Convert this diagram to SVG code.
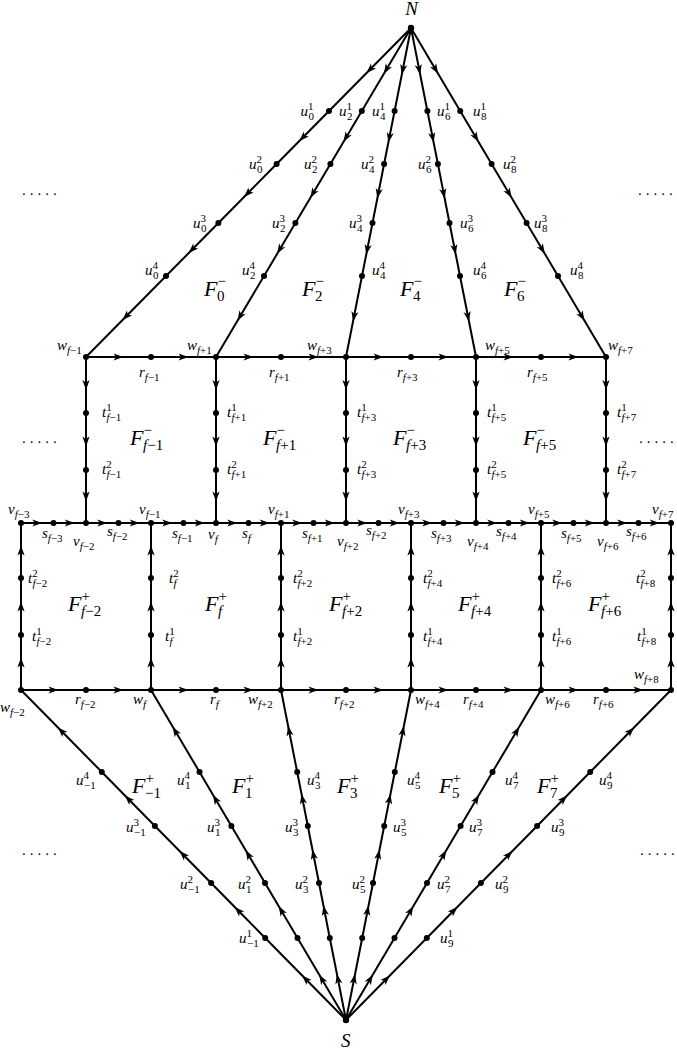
<svg xmlns="http://www.w3.org/2000/svg" width="677" height="1049" viewBox="0 0 677 1049">
<defs>
<marker id="a" viewBox="-6 -5 12 10" markerWidth="12" markerHeight="10" refX="0" refY="0" orient="auto" markerUnits="userSpaceOnUse"><path d="M5,0 L-5,-3.6 L-2.4,0 L-5,3.6 Z" fill="#000"/></marker>
<style>
.c path{stroke:#000;stroke-width:2;fill:none;marker-mid:url(#a)}
circle{fill:#000}
text{font-family:"Liberation Serif",serif;font-style:italic;font-size:15px;fill:#000}
.s{font-size:11px}
.n{font-style:normal}
text.F{font-size:22px}
.Fs{font-size:15px}
text.L{font-size:19px}
text.el{font-style:normal;letter-spacing:4px}
</style>
</defs>
<rect width="677" height="1049" fill="#fff"/>
<g class="c" id="connectors">
<path d="M411,28 L370,69.5 L329,111"/><path d="M329,111 L302.8,137.5 L276.6,164"/><path d="M276.6,164 L247.5,193.5 L218.4,223"/><path d="M218.4,223 L192.2,249.5 L166,276"/><path d="M166,276 L126,316.5 L86,357"/>
<path d="M411,28 L386.4,69.5 L361.8,111"/><path d="M361.8,111 L346.1,137.5 L330.4,164"/><path d="M330.4,164 L312.9,193.5 L295.4,223"/><path d="M295.4,223 L279.7,249.5 L264,276"/><path d="M264,276 L240,316.5 L216,357"/>
<path d="M411,28 L402.8,69.5 L394.6,111"/><path d="M394.6,111 L389.35,137.5 L384.1,164"/><path d="M384.1,164 L378.3,193.5 L372.5,223"/><path d="M372.5,223 L367.25,249.5 L362,276"/><path d="M362,276 L354,316.5 L346,357"/>
<path d="M411,28 L419.2,69.5 L427.4,111"/><path d="M427.4,111 L432.65,137.5 L437.9,164"/><path d="M437.9,164 L443.7,193.5 L449.5,223"/><path d="M449.5,223 L454.75,249.5 L460,276"/><path d="M460,276 L468,316.5 L476,357"/>
<path d="M411,28 L435.6,69.5 L460.2,111"/><path d="M460.2,111 L475.9,137.5 L491.6,164"/><path d="M491.6,164 L509.1,193.5 L526.6,223"/><path d="M526.6,223 L542.3,249.5 L558,276"/><path d="M558,276 L582,316.5 L606,357"/>
<path d="M346,1020 L305.6,979 L265.2,938"/><path d="M265.2,938 L238.15,910.5 L211.1,883"/><path d="M211.1,883 L183,854.5 L154.9,826"/><path d="M154.9,826 L128.35,799 L101.8,772"/><path d="M101.8,772 L61.4,731 L21,690"/>
<path d="M346,1020 L321.75,979 L297.5,938"/><path d="M297.5,938 L281.25,910.5 L265,883"/><path d="M265,883 L248.2,854.5 L231.4,826"/><path d="M231.4,826 L215.45,799 L199.5,772"/><path d="M199.5,772 L175.25,731 L151,690"/>
<path d="M346,1020 L337.9,979 L329.8,938"/><path d="M329.8,938 L324.4,910.5 L319,883"/><path d="M319,883 L313.4,854.5 L307.8,826"/><path d="M307.8,826 L302.5,799 L297.2,772"/><path d="M297.2,772 L289.1,731 L281,690"/>
<path d="M346,1020 L354.1,979 L362.2,938"/><path d="M362.2,938 L367.6,910.5 L373,883"/><path d="M373,883 L378.6,854.5 L384.2,826"/><path d="M384.2,826 L389.5,799 L394.8,772"/><path d="M394.8,772 L402.9,731 L411,690"/>
<path d="M346,1020 L370.25,979 L394.5,938"/><path d="M394.5,938 L410.75,910.5 L427,883"/><path d="M427,883 L443.8,854.5 L460.6,826"/><path d="M460.6,826 L476.55,799 L492.5,772"/><path d="M492.5,772 L516.75,731 L541,690"/>
<path d="M346,1020 L386.4,979 L426.8,938"/><path d="M426.8,938 L453.85,910.5 L480.9,883"/><path d="M480.9,883 L509,854.5 L537.1,826"/><path d="M537.1,826 L563.65,799 L590.2,772"/><path d="M590.2,772 L630.6,731 L671,690"/>
<path d="M86,357 L118.5,357 L151,357"/><path d="M151,357 L183.5,357 L216,357"/><path d="M216,357 L248.5,357 L281,357"/><path d="M281,357 L313.5,357 L346,357"/><path d="M346,357 L378.5,357 L411,357"/><path d="M411,357 L443.5,357 L476,357"/><path d="M476,357 L508.5,357 L541,357"/><path d="M541,357 L573.5,357 L606,357"/>
<path d="M21,523 L37.25,523 L53.5,523"/><path d="M53.5,523 L69.75,523 L86,523"/><path d="M86,523 L102.25,523 L118.5,523"/><path d="M118.5,523 L134.75,523 L151,523"/><path d="M151,523 L167.25,523 L183.5,523"/><path d="M183.5,523 L199.75,523 L216,523"/><path d="M216,523 L232.25,523 L248.5,523"/><path d="M248.5,523 L264.75,523 L281,523"/><path d="M281,523 L297.25,523 L313.5,523"/><path d="M313.5,523 L329.75,523 L346,523"/><path d="M346,523 L362.25,523 L378.5,523"/><path d="M378.5,523 L394.75,523 L411,523"/><path d="M411,523 L427.25,523 L443.5,523"/><path d="M443.5,523 L459.75,523 L476,523"/><path d="M476,523 L492.25,523 L508.5,523"/><path d="M508.5,523 L524.75,523 L541,523"/><path d="M541,523 L557.25,523 L573.5,523"/><path d="M573.5,523 L589.75,523 L606,523"/><path d="M606,523 L622.25,523 L638.5,523"/><path d="M638.5,523 L654.75,523 L671,523"/>
<path d="M21,690 L53.5,690 L86,690"/><path d="M86,690 L118.5,690 L151,690"/><path d="M151,690 L183.5,690 L216,690"/><path d="M216,690 L248.5,690 L281,690"/><path d="M281,690 L313.5,690 L346,690"/><path d="M346,690 L378.5,690 L411,690"/><path d="M411,690 L443.5,690 L476,690"/><path d="M476,690 L508.5,690 L541,690"/><path d="M541,690 L573.5,690 L606,690"/><path d="M606,690 L638.5,690 L671,690"/>
<path d="M86,357 L86,385 L86,413"/><path d="M86,413 L86,441.5 L86,470"/><path d="M86,470 L86,496.5 L86,523"/>
<path d="M216,357 L216,385 L216,413"/><path d="M216,413 L216,441.5 L216,470"/><path d="M216,470 L216,496.5 L216,523"/>
<path d="M346,357 L346,385 L346,413"/><path d="M346,413 L346,441.5 L346,470"/><path d="M346,470 L346,496.5 L346,523"/>
<path d="M476,357 L476,385 L476,413"/><path d="M476,413 L476,441.5 L476,470"/><path d="M476,470 L476,496.5 L476,523"/>
<path d="M606,357 L606,385 L606,413"/><path d="M606,413 L606,441.5 L606,470"/><path d="M606,470 L606,496.5 L606,523"/>
<path d="M21,690 L21,662.5 L21,635"/><path d="M21,635 L21,606.5 L21,578"/><path d="M21,578 L21,550.5 L21,523"/>
<path d="M151,690 L151,662.5 L151,635"/><path d="M151,635 L151,606.5 L151,578"/><path d="M151,578 L151,550.5 L151,523"/>
<path d="M281,690 L281,662.5 L281,635"/><path d="M281,635 L281,606.5 L281,578"/><path d="M281,578 L281,550.5 L281,523"/>
<path d="M411,690 L411,662.5 L411,635"/><path d="M411,635 L411,606.5 L411,578"/><path d="M411,578 L411,550.5 L411,523"/>
<path d="M541,690 L541,662.5 L541,635"/><path d="M541,635 L541,606.5 L541,578"/><path d="M541,578 L541,550.5 L541,523"/>
<path d="M671,690 L671,662.5 L671,635"/><path d="M671,635 L671,606.5 L671,578"/><path d="M671,578 L671,550.5 L671,523"/>
</g>
<g id="N"><circle cx="411" cy="28" r="3.2"/><text class="L" x="411.5" y="15" text-anchor="middle">N</text></g>
<g id="S"><circle cx="346" cy="1020" r="3.2"/><text class="L" x="345.7" y="1047" text-anchor="middle">S</text></g>
<g id="u0-1"><circle cx="329" cy="111" r="3"/><text x="300.5" y="116">u<tspan class="s n" dy="-6">1</tspan><tspan class="s n" x="308.5" dy="10">0</tspan></text></g>
<g id="u0-2"><circle cx="276.6" cy="164" r="3"/><text x="249" y="168.5">u<tspan class="s n" dy="-6">2</tspan><tspan class="s n" x="257" dy="10">0</tspan></text></g>
<g id="u0-3"><circle cx="218.4" cy="223" r="3"/><text x="193" y="228">u<tspan class="s n" dy="-6">3</tspan><tspan class="s n" x="201" dy="10">0</tspan></text></g>
<g id="u0-4"><circle cx="166" cy="276" r="3"/><text x="145" y="275">u<tspan class="s n" dy="-6">4</tspan><tspan class="s n" x="153" dy="10">0</tspan></text></g>
<g id="u2-1"><circle cx="361.8" cy="111" r="3"/><text x="339" y="116">u<tspan class="s n" dy="-6">1</tspan><tspan class="s n" x="347" dy="10">2</tspan></text></g>
<g id="u2-2"><circle cx="330.4" cy="164" r="3"/><text x="304" y="168.5">u<tspan class="s n" dy="-6">2</tspan><tspan class="s n" x="312" dy="10">2</tspan></text></g>
<g id="u2-3"><circle cx="295.4" cy="223" r="3"/><text x="272" y="228">u<tspan class="s n" dy="-6">3</tspan><tspan class="s n" x="280" dy="10">2</tspan></text></g>
<g id="u2-4"><circle cx="264" cy="276" r="3"/><text x="242" y="275">u<tspan class="s n" dy="-6">4</tspan><tspan class="s n" x="250" dy="10">2</tspan></text></g>
<g id="u4-1"><circle cx="394.6" cy="111" r="3"/><text x="372" y="116">u<tspan class="s n" dy="-6">1</tspan><tspan class="s n" x="380" dy="10">4</tspan></text></g>
<g id="u4-2"><circle cx="384.1" cy="164" r="3"/><text x="361" y="168.5">u<tspan class="s n" dy="-6">2</tspan><tspan class="s n" x="369" dy="10">4</tspan></text></g>
<g id="u4-3"><circle cx="372.5" cy="223" r="3"/><text x="349" y="228">u<tspan class="s n" dy="-6">3</tspan><tspan class="s n" x="357" dy="10">4</tspan></text></g>
<g id="u4-4"><circle cx="362" cy="276" r="3"/><text x="372" y="275">u<tspan class="s n" dy="-6">4</tspan><tspan class="s n" x="380" dy="10">4</tspan></text></g>
<g id="u6-1"><circle cx="427.4" cy="111" r="3"/><text x="437" y="116">u<tspan class="s n" dy="-6">1</tspan><tspan class="s n" x="445" dy="10">6</tspan></text></g>
<g id="u6-2"><circle cx="437.9" cy="164" r="3"/><text x="418" y="168.5">u<tspan class="s n" dy="-6">2</tspan><tspan class="s n" x="426" dy="10">6</tspan></text></g>
<g id="u6-3"><circle cx="449.5" cy="223" r="3"/><text x="460" y="228">u<tspan class="s n" dy="-6">3</tspan><tspan class="s n" x="468" dy="10">6</tspan></text></g>
<g id="u6-4"><circle cx="460" cy="276" r="3"/><text x="473" y="275">u<tspan class="s n" dy="-6">4</tspan><tspan class="s n" x="481" dy="10">6</tspan></text></g>
<g id="u8-1"><circle cx="460.2" cy="111" r="3"/><text x="473" y="116">u<tspan class="s n" dy="-6">1</tspan><tspan class="s n" x="481" dy="10">8</tspan></text></g>
<g id="u8-2"><circle cx="491.6" cy="164" r="3"/><text x="503" y="168.5">u<tspan class="s n" dy="-6">2</tspan><tspan class="s n" x="511" dy="10">8</tspan></text></g>
<g id="u8-3"><circle cx="526.6" cy="223" r="3"/><text x="534" y="228">u<tspan class="s n" dy="-6">3</tspan><tspan class="s n" x="542" dy="10">8</tspan></text></g>
<g id="u8-4"><circle cx="558" cy="276" r="3"/><text x="570" y="275">u<tspan class="s n" dy="-6">4</tspan><tspan class="s n" x="578" dy="10">8</tspan></text></g>
<g id="um1-1"><circle cx="265.2" cy="938" r="3"/><text x="239" y="943">u<tspan class="s n" dy="-6">1</tspan><tspan class="s n" x="247" dy="10">−1</tspan></text></g>
<g id="um1-2"><circle cx="211.1" cy="883" r="3"/><text x="180" y="889">u<tspan class="s n" dy="-6">2</tspan><tspan class="s n" x="188" dy="10">−1</tspan></text></g>
<g id="um1-3"><circle cx="154.9" cy="826" r="3"/><text x="126" y="832">u<tspan class="s n" dy="-6">3</tspan><tspan class="s n" x="134" dy="10">−1</tspan></text></g>
<g id="um1-4"><circle cx="101.8" cy="772" r="3"/><text x="76" y="785">u<tspan class="s n" dy="-6">4</tspan><tspan class="s n" x="84" dy="10">−1</tspan></text></g>
<g id="u1-1"><circle cx="297.5" cy="938" r="3"/></g>
<g id="u1-2"><circle cx="265" cy="883" r="3"/><text x="238" y="889">u<tspan class="s n" dy="-6">2</tspan><tspan class="s n" x="246" dy="10">1</tspan></text></g>
<g id="u1-3"><circle cx="231.4" cy="826" r="3"/><text x="207" y="832">u<tspan class="s n" dy="-6">3</tspan><tspan class="s n" x="215" dy="10">1</tspan></text></g>
<g id="u1-4"><circle cx="199.5" cy="772" r="3"/><text x="177" y="785">u<tspan class="s n" dy="-6">4</tspan><tspan class="s n" x="185" dy="10">1</tspan></text></g>
<g id="u3-1"><circle cx="329.8" cy="938" r="3"/></g>
<g id="u3-2"><circle cx="319" cy="883" r="3"/><text x="295" y="889">u<tspan class="s n" dy="-6">2</tspan><tspan class="s n" x="303" dy="10">3</tspan></text></g>
<g id="u3-3"><circle cx="307.8" cy="826" r="3"/><text x="285" y="832">u<tspan class="s n" dy="-6">3</tspan><tspan class="s n" x="293" dy="10">3</tspan></text></g>
<g id="u3-4"><circle cx="297.2" cy="772" r="3"/><text x="307" y="785">u<tspan class="s n" dy="-6">4</tspan><tspan class="s n" x="315" dy="10">3</tspan></text></g>
<g id="u5-1"><circle cx="362.2" cy="938" r="3"/></g>
<g id="u5-2"><circle cx="373" cy="883" r="3"/><text x="352" y="889">u<tspan class="s n" dy="-6">2</tspan><tspan class="s n" x="360" dy="10">5</tspan></text></g>
<g id="u5-3"><circle cx="384.2" cy="826" r="3"/><text x="393" y="832">u<tspan class="s n" dy="-6">3</tspan><tspan class="s n" x="401" dy="10">5</tspan></text></g>
<g id="u5-4"><circle cx="394.8" cy="772" r="3"/><text x="407" y="785">u<tspan class="s n" dy="-6">4</tspan><tspan class="s n" x="415" dy="10">5</tspan></text></g>
<g id="u7-1"><circle cx="394.5" cy="938" r="3"/></g>
<g id="u7-2"><circle cx="427" cy="883" r="3"/><text x="437" y="889">u<tspan class="s n" dy="-6">2</tspan><tspan class="s n" x="445" dy="10">7</tspan></text></g>
<g id="u7-3"><circle cx="460.6" cy="826" r="3"/><text x="469" y="832">u<tspan class="s n" dy="-6">3</tspan><tspan class="s n" x="477" dy="10">7</tspan></text></g>
<g id="u7-4"><circle cx="492.5" cy="772" r="3"/><text x="505" y="785">u<tspan class="s n" dy="-6">4</tspan><tspan class="s n" x="513" dy="10">7</tspan></text></g>
<g id="u9-1"><circle cx="426.8" cy="938" r="3"/><text x="440" y="943">u<tspan class="s n" dy="-6">1</tspan><tspan class="s n" x="448" dy="10">9</tspan></text></g>
<g id="u9-2"><circle cx="480.9" cy="883" r="3"/><text x="495" y="889">u<tspan class="s n" dy="-6">2</tspan><tspan class="s n" x="503" dy="10">9</tspan></text></g>
<g id="u9-3"><circle cx="537.1" cy="826" r="3"/><text x="551" y="832">u<tspan class="s n" dy="-6">3</tspan><tspan class="s n" x="559" dy="10">9</tspan></text></g>
<g id="u9-4"><circle cx="590.2" cy="772" r="3"/><text x="599" y="785">u<tspan class="s n" dy="-6">4</tspan><tspan class="s n" x="607" dy="10">9</tspan></text></g>
<g id="w-fm1"><circle cx="86" cy="357" r="3"/><text x="57" y="350">w<tspan class="s" dy="4">f</tspan><tspan class="s n">−1</tspan></text></g>
<g id="r-fm1"><circle cx="151" cy="357" r="3"/><text x="139" y="377">r<tspan class="s" dy="4">f</tspan><tspan class="s n">−1</tspan></text></g>
<g id="w-fp1"><circle cx="216" cy="357" r="3"/><text x="187" y="350">w<tspan class="s" dy="4">f</tspan><tspan class="s n">+1</tspan></text></g>
<g id="r-fp1"><circle cx="281" cy="357" r="3"/><text x="269" y="377">r<tspan class="s" dy="4">f</tspan><tspan class="s n">+1</tspan></text></g>
<g id="w-fp3"><circle cx="346" cy="357" r="3"/><text x="307" y="350">w<tspan class="s" dy="4">f</tspan><tspan class="s n">+3</tspan></text></g>
<g id="r-fp3"><circle cx="411" cy="357" r="3"/><text x="397" y="377">r<tspan class="s" dy="4">f</tspan><tspan class="s n">+3</tspan></text></g>
<g id="w-fp5"><circle cx="476" cy="357" r="3"/><text x="485" y="350">w<tspan class="s" dy="4">f</tspan><tspan class="s n">+5</tspan></text></g>
<g id="r-fp5"><circle cx="541" cy="357" r="3"/><text x="527" y="377">r<tspan class="s" dy="4">f</tspan><tspan class="s n">+5</tspan></text></g>
<g id="w-fp7"><circle cx="606" cy="357" r="3"/><text x="608" y="350">w<tspan class="s" dy="4">f</tspan><tspan class="s n">+7</tspan></text></g>
<g id="t1-fm1"><circle cx="86" cy="413" r="3"/><text x="102" y="417">t<tspan class="s n" dy="-6">1</tspan><tspan class="s" x="106.5" dy="10">f</tspan><tspan class="s n">−1</tspan></text></g>
<g id="t2-fm1"><circle cx="86" cy="470" r="3"/><text x="102" y="474">t<tspan class="s n" dy="-6">2</tspan><tspan class="s" x="106.5" dy="10">f</tspan><tspan class="s n">−1</tspan></text></g>
<g id="t1-fp1"><circle cx="216" cy="413" r="3"/><text x="227" y="417">t<tspan class="s n" dy="-6">1</tspan><tspan class="s" x="231.5" dy="10">f</tspan><tspan class="s n">+1</tspan></text></g>
<g id="t2-fp1"><circle cx="216" cy="470" r="3"/><text x="227" y="474">t<tspan class="s n" dy="-6">2</tspan><tspan class="s" x="231.5" dy="10">f</tspan><tspan class="s n">+1</tspan></text></g>
<g id="t1-fp3"><circle cx="346" cy="413" r="3"/><text x="357" y="417">t<tspan class="s n" dy="-6">1</tspan><tspan class="s" x="361.5" dy="10">f</tspan><tspan class="s n">+3</tspan></text></g>
<g id="t2-fp3"><circle cx="346" cy="470" r="3"/><text x="357" y="474">t<tspan class="s n" dy="-6">2</tspan><tspan class="s" x="361.5" dy="10">f</tspan><tspan class="s n">+3</tspan></text></g>
<g id="t1-fp5"><circle cx="476" cy="413" r="3"/><text x="487" y="417">t<tspan class="s n" dy="-6">1</tspan><tspan class="s" x="491.5" dy="10">f</tspan><tspan class="s n">+5</tspan></text></g>
<g id="t2-fp5"><circle cx="476" cy="470" r="3"/><text x="487" y="474">t<tspan class="s n" dy="-6">2</tspan><tspan class="s" x="491.5" dy="10">f</tspan><tspan class="s n">+5</tspan></text></g>
<g id="t1-fp7"><circle cx="606" cy="413" r="3"/><text x="617" y="417">t<tspan class="s n" dy="-6">1</tspan><tspan class="s" x="621.5" dy="10">f</tspan><tspan class="s n">+7</tspan></text></g>
<g id="t2-fp7"><circle cx="606" cy="470" r="3"/><text x="617" y="474">t<tspan class="s n" dy="-6">2</tspan><tspan class="s" x="621.5" dy="10">f</tspan><tspan class="s n">+7</tspan></text></g>
<g id="v-fm3"><circle cx="21" cy="523" r="3"/><text x="8" y="514">v<tspan class="s" dy="4">f</tspan><tspan class="s n">−3</tspan></text></g>
<g id="s-fm3"><circle cx="53.5" cy="523" r="3"/><text x="42" y="538">s<tspan class="s" dy="4">f</tspan><tspan class="s n">−3</tspan></text></g>
<g id="v-fm2"><circle cx="86" cy="523" r="3"/><text x="73" y="546">v<tspan class="s" dy="4">f</tspan><tspan class="s n">−2</tspan></text></g>
<g id="s-fm2"><circle cx="118.5" cy="523" r="3"/><text x="107" y="536">s<tspan class="s" dy="4">f</tspan><tspan class="s n">−2</tspan></text></g>
<g id="v-fm1"><circle cx="151" cy="523" r="3"/><text x="139" y="514">v<tspan class="s" dy="4">f</tspan><tspan class="s n">−1</tspan></text></g>
<g id="s-fm1"><circle cx="183.5" cy="523" r="3"/><text x="172" y="538">s<tspan class="s" dy="4">f</tspan><tspan class="s n">−1</tspan></text></g>
<g id="v-f"><circle cx="216" cy="523" r="3"/><text x="208" y="539">v<tspan class="s" dy="4">f</tspan></text></g>
<g id="s-f"><circle cx="248.5" cy="523" r="3"/><text x="242" y="538">s<tspan class="s" dy="4">f</tspan></text></g>
<g id="v-fp1"><circle cx="281" cy="523" r="3"/><text x="268" y="514">v<tspan class="s" dy="4">f</tspan><tspan class="s n">+1</tspan></text></g>
<g id="s-fp1"><circle cx="313.5" cy="523" r="3"/><text x="302" y="538">s<tspan class="s" dy="4">f</tspan><tspan class="s n">+1</tspan></text></g>
<g id="v-fp2"><circle cx="346" cy="523" r="3"/><text x="337" y="546">v<tspan class="s" dy="4">f</tspan><tspan class="s n">+2</tspan></text></g>
<g id="s-fp2"><circle cx="378.5" cy="523" r="3"/><text x="366" y="535">s<tspan class="s" dy="4">f</tspan><tspan class="s n">+2</tspan></text></g>
<g id="v-fp3"><circle cx="411" cy="523" r="3"/><text x="398" y="514">v<tspan class="s" dy="4">f</tspan><tspan class="s n">+3</tspan></text></g>
<g id="s-fp3"><circle cx="443.5" cy="523" r="3"/><text x="431" y="538">s<tspan class="s" dy="4">f</tspan><tspan class="s n">+3</tspan></text></g>
<g id="v-fp4"><circle cx="476" cy="523" r="3"/><text x="467" y="546">v<tspan class="s" dy="4">f</tspan><tspan class="s n">+4</tspan></text></g>
<g id="s-fp4"><circle cx="508.5" cy="523" r="3"/><text x="496" y="536">s<tspan class="s" dy="4">f</tspan><tspan class="s n">+4</tspan></text></g>
<g id="v-fp5"><circle cx="541" cy="523" r="3"/><text x="528" y="514">v<tspan class="s" dy="4">f</tspan><tspan class="s n">+5</tspan></text></g>
<g id="s-fp5"><circle cx="573.5" cy="523" r="3"/><text x="561" y="538">s<tspan class="s" dy="4">f</tspan><tspan class="s n">+5</tspan></text></g>
<g id="v-fp6"><circle cx="606" cy="523" r="3"/><text x="597" y="546">v<tspan class="s" dy="4">f</tspan><tspan class="s n">+6</tspan></text></g>
<g id="s-fp6"><circle cx="638.5" cy="523" r="3"/><text x="626" y="536">s<tspan class="s" dy="4">f</tspan><tspan class="s n">+6</tspan></text></g>
<g id="v-fp7"><circle cx="671" cy="523" r="3"/><text x="652" y="514">v<tspan class="s" dy="4">f</tspan><tspan class="s n">+7</tspan></text></g>
<g id="t2-fm2"><circle cx="21" cy="578" r="3"/><text x="28" y="583">t<tspan class="s n" dy="-6">2</tspan><tspan class="s" x="32.5" dy="10">f</tspan><tspan class="s n">−2</tspan></text></g>
<g id="t1-fm2"><circle cx="21" cy="635" r="3"/><text x="32" y="641">t<tspan class="s n" dy="-6">1</tspan><tspan class="s" x="36.5" dy="10">f</tspan><tspan class="s n">−2</tspan></text></g>
<g id="t2-f"><circle cx="151" cy="578" r="3"/><text x="169" y="583">t<tspan class="s n" dy="-6">2</tspan><tspan class="s" x="173.5" dy="10">f</tspan></text></g>
<g id="t1-f"><circle cx="151" cy="635" r="3"/><text x="165" y="641">t<tspan class="s n" dy="-6">1</tspan><tspan class="s" x="169.5" dy="10">f</tspan></text></g>
<g id="t2-fp2"><circle cx="281" cy="578" r="3"/><text x="293" y="583">t<tspan class="s n" dy="-6">2</tspan><tspan class="s" x="297.5" dy="10">f</tspan><tspan class="s n">+2</tspan></text></g>
<g id="t1-fp2"><circle cx="281" cy="635" r="3"/><text x="293" y="641">t<tspan class="s n" dy="-6">1</tspan><tspan class="s" x="297.5" dy="10">f</tspan><tspan class="s n">+2</tspan></text></g>
<g id="t2-fp4"><circle cx="411" cy="578" r="3"/><text x="423" y="583">t<tspan class="s n" dy="-6">2</tspan><tspan class="s" x="427.5" dy="10">f</tspan><tspan class="s n">+4</tspan></text></g>
<g id="t1-fp4"><circle cx="411" cy="635" r="3"/><text x="423" y="641">t<tspan class="s n" dy="-6">1</tspan><tspan class="s" x="427.5" dy="10">f</tspan><tspan class="s n">+4</tspan></text></g>
<g id="t2-fp6"><circle cx="541" cy="578" r="3"/><text x="552" y="583">t<tspan class="s n" dy="-6">2</tspan><tspan class="s" x="556.5" dy="10">f</tspan><tspan class="s n">+6</tspan></text></g>
<g id="t1-fp6"><circle cx="541" cy="635" r="3"/><text x="552" y="641">t<tspan class="s n" dy="-6">1</tspan><tspan class="s" x="556.5" dy="10">f</tspan><tspan class="s n">+6</tspan></text></g>
<g id="t2-fp8"><circle cx="671" cy="578" r="3"/><text x="636" y="583">t<tspan class="s n" dy="-6">2</tspan><tspan class="s" x="640.5" dy="10">f</tspan><tspan class="s n">+8</tspan></text></g>
<g id="t1-fp8"><circle cx="671" cy="635" r="3"/><text x="637" y="641">t<tspan class="s n" dy="-6">1</tspan><tspan class="s" x="641.5" dy="10">f</tspan><tspan class="s n">+8</tspan></text></g>
<g id="w-fm2"><circle cx="21" cy="690" r="3"/><text x="0" y="712">w<tspan class="s" dy="4">f</tspan><tspan class="s n">−2</tspan></text></g>
<g id="r-fm2"><circle cx="86" cy="690" r="3"/><text x="75" y="704">r<tspan class="s" dy="4">f</tspan><tspan class="s n">−2</tspan></text></g>
<g id="w-f"><circle cx="151" cy="690" r="3"/><text x="133" y="704">w<tspan class="s" dy="4">f</tspan></text></g>
<g id="r-f"><circle cx="216" cy="690" r="3"/><text x="210" y="704">r<tspan class="s" dy="4">f</tspan></text></g>
<g id="w-fp2"><circle cx="281" cy="690" r="3"/><text x="248" y="704">w<tspan class="s" dy="4">f</tspan><tspan class="s n">+2</tspan></text></g>
<g id="r-fp2"><circle cx="346" cy="690" r="3"/><text x="334" y="704">r<tspan class="s" dy="4">f</tspan><tspan class="s n">+2</tspan></text></g>
<g id="w-fp4"><circle cx="411" cy="690" r="3"/><text x="415" y="704">w<tspan class="s" dy="4">f</tspan><tspan class="s n">+4</tspan></text></g>
<g id="r-fp4"><circle cx="476" cy="690" r="3"/><text x="463" y="704">r<tspan class="s" dy="4">f</tspan><tspan class="s n">+4</tspan></text></g>
<g id="w-fp6"><circle cx="541" cy="690" r="3"/><text x="545" y="704">w<tspan class="s" dy="4">f</tspan><tspan class="s n">+6</tspan></text></g>
<g id="r-fp6"><circle cx="606" cy="690" r="3"/><text x="593" y="704">r<tspan class="s" dy="4">f</tspan><tspan class="s n">+6</tspan></text></g>
<g id="w-fp8"><circle cx="671" cy="690" r="3"/><text x="634" y="679">w<tspan class="s" dy="4">f</tspan><tspan class="s n">+8</tspan></text></g>
<g id="faces">
<text class="F" x="204" y="296">F<tspan class="Fs n" dy="-10">−</tspan><tspan class="Fs n" x="217" dy="15">0</tspan></text>
<text class="F" x="302" y="296">F<tspan class="Fs n" dy="-10">−</tspan><tspan class="Fs n" x="315" dy="15">2</tspan></text>
<text class="F" x="400" y="296">F<tspan class="Fs n" dy="-10">−</tspan><tspan class="Fs n" x="413" dy="15">4</tspan></text>
<text class="F" x="504" y="296">F<tspan class="Fs n" dy="-10">−</tspan><tspan class="Fs n" x="517" dy="15">6</tspan></text>
<text class="F" x="130" y="445">F<tspan class="Fs n" dy="-10">−</tspan><tspan class="Fs" x="143" dy="15">f</tspan><tspan class="Fs n">−1</tspan></text>
<text class="F" x="263" y="445">F<tspan class="Fs n" dy="-10">−</tspan><tspan class="Fs" x="276" dy="15">f</tspan><tspan class="Fs n">+1</tspan></text>
<text class="F" x="393" y="445">F<tspan class="Fs n" dy="-10">−</tspan><tspan class="Fs" x="406" dy="15">f</tspan><tspan class="Fs n">+3</tspan></text>
<text class="F" x="523" y="445">F<tspan class="Fs n" dy="-10">−</tspan><tspan class="Fs" x="536" dy="15">f</tspan><tspan class="Fs n">+5</tspan></text>
<text class="F" x="68" y="611">F<tspan class="Fs n" dy="-10">+</tspan><tspan class="Fs" x="81" dy="15">f</tspan><tspan class="Fs n">−2</tspan></text>
<text class="F" x="205" y="611">F<tspan class="Fs n" dy="-10">+</tspan><tspan class="Fs" x="218" dy="15">f</tspan></text>
<text class="F" x="329" y="611">F<tspan class="Fs n" dy="-10">+</tspan><tspan class="Fs" x="342" dy="15">f</tspan><tspan class="Fs n">+2</tspan></text>
<text class="F" x="458" y="611">F<tspan class="Fs n" dy="-10">+</tspan><tspan class="Fs" x="471" dy="15">f</tspan><tspan class="Fs n">+4</tspan></text>
<text class="F" x="588" y="611">F<tspan class="Fs n" dy="-10">+</tspan><tspan class="Fs" x="601" dy="15">f</tspan><tspan class="Fs n">+6</tspan></text>
<text class="F" x="132" y="793">F<tspan class="Fs n" dy="-10">+</tspan><tspan class="Fs n" x="145" dy="15">−1</tspan></text>
<text class="F" x="232" y="793">F<tspan class="Fs n" dy="-10">+</tspan><tspan class="Fs n" x="245" dy="15">1</tspan></text>
<text class="F" x="337" y="793">F<tspan class="Fs n" dy="-10">+</tspan><tspan class="Fs n" x="350" dy="15">3</tspan></text>
<text class="F" x="439" y="793">F<tspan class="Fs n" dy="-10">+</tspan><tspan class="Fs n" x="452" dy="15">5</tspan></text>
<text class="F" x="537" y="793">F<tspan class="Fs n" dy="-10">+</tspan><tspan class="Fs n" x="550" dy="15">7</tspan></text>
</g>
<g id="ellipses">
<text class="el" x="22" y="194.5">.....</text>
<text class="el" x="638" y="194.5">.....</text>
<text class="el" x="22" y="442.5">.....</text>
<text class="el" x="639" y="442.5">.....</text>
<text class="el" x="22" y="854.5">.....</text>
<text class="el" x="640" y="854.5">.....</text>
</g>
</svg>
